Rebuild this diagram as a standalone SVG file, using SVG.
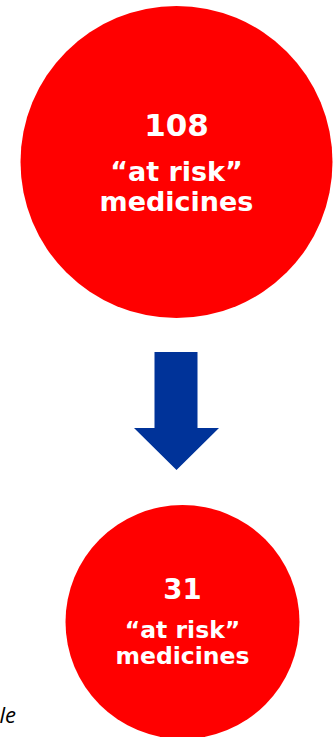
<svg xmlns="http://www.w3.org/2000/svg" width="335" height="737" viewBox="0 0 335 737">
<style>
.c{fill:#ff0000}
.t{font-family:"DejaVu Sans",Verdana,sans-serif;font-weight:bold;fill:#ffffff;text-anchor:middle}
.a{fill:#003399}
.n{font-family:"Open Sans","Liberation Sans",Arial,sans-serif;font-style:italic;fill:#000000}
</style>
<rect width="335" height="737" fill="#ffffff"/>
<g id="node-108">
<circle class="c" cx="176.5" cy="162" r="156"/>
<text class="t" x="176.5" y="136" font-size="31">108</text>
<text class="t" x="176.5" y="181" font-size="27">“at risk”</text>
<text class="t" x="176.5" y="211" font-size="27">medicines</text>
</g>
<g id="connectors">
<polygon class="a" points="154.5,352 197.5,352 197.5,428 219,428 176.5,470 134,428 154.5,428"/>
</g>
<g id="node-31">
<circle class="c" cx="182.5" cy="622" r="117"/>
<text class="t" x="182.5" y="599" font-size="27.5">31</text>
<text class="t" x="182.5" y="637.5" font-size="23.5">“at risk”</text>
<text class="t" x="182.5" y="664" font-size="23.5">medicines</text>
</g>
<text class="n" x="16" y="722.5" font-size="22" text-anchor="end">le</text>
</svg>
